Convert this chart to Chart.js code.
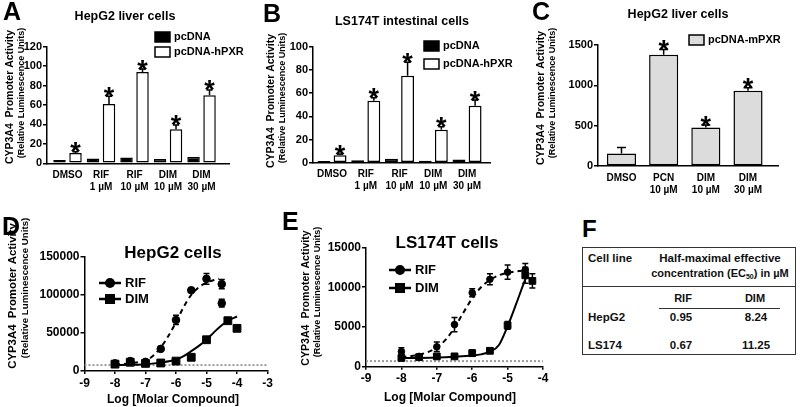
<!DOCTYPE html>
<html>
<head>
<meta charset="utf-8">
<script src="https://cdn.jsdelivr.net/npm/chart.js@4.4.1/dist/chart.umd.min.js"></script>
<style>
  html, body { margin: 0; padding: 0; background: #fff; }
  #fig { position: relative; width: 800px; height: 407px; overflow: hidden;
         font-family: "Liberation Sans", Arial, sans-serif; color: #000; }
  .pane { position: absolute; }
  .t { position: absolute; line-height: 1; white-space: nowrap; font-weight: bold; color: #111; }
  .c { transform: translate(-50%, -50%); }
  .l { transform: translate(0, -50%); }
</style>
</head>
<body>
<div id="fig">
  <canvas class="pane" id="chartA" width="262" height="200" style="left:0;top:0"></canvas>
  <canvas class="pane" id="chartB" width="266" height="200" style="left:262px;top:0"></canvas>
  <canvas class="pane" id="chartC" width="272" height="200" style="left:528px;top:0"></canvas>
  <canvas class="pane" id="chartD" width="280" height="207" style="left:0;top:200px"></canvas>
  <canvas class="pane" id="chartE" width="280" height="207" style="left:280px;top:200px"></canvas>
  <div id="panelF"></div>
</div>
<script>
const FONT = '"Liberation Sans", Arial, sans-serif';

// ---- panel A: HepG2, hPXR ----
const groupsA = [["DMSO"], ["RIF", "1 µM"], ["RIF", "10 µM"], ["DIM", "10 µM"], ["DIM", "30 µM"]];
const pcdnaA = [3.5, 5, 6, 4.5, 6.5];
const hpxrA = [10.5, 61, 94, 35, 70];
const hpxrErrA = [1.5, 8, 3, 4.5, 5.5];

// ---- panel B: LS174T, hPXR ----
const groupsB = [["DMSO"], ["RIF", "1 µM"], ["RIF", "10 µM"], ["DIM", "10 µM"], ["DIM", "30 µM"]];
const pcdnaB = [1.5, 2.2, 3.5, 1.7, 2.8];
const hpxrB = [6.5, 53.5, 75, 28.5, 49];
const hpxrErrB = [1, 2.5, 11.5, 2.5, 5];

// ---- panel C: HepG2, mPXR ----
const groupsC = [["DMSO"], ["PCN", "10 µM"], ["DIM", "10 µM"], ["DIM", "30 µM"]];
const mpxrC = [155, 1380, 478, 932];
const mpxrErrC = [75, 65, 30, 38];
const starsC = [false, true, true, true];

// ---- panel D: HepG2 dose response ----
const rifDoseD = [-8, -7.5, -7, -6.5, -6, -5.5, -5, -4.5, -4.5];
const rifD = [10000, 13000, 12000, 29000, 67000, 106000, 121000, 114000, 89000];
const rifErrD = [1500, 2000, 1500, 2000, 6000, 2000, 7000, 6000, 5000];
const dimDoseD = [-8, -7.5, -7, -6.5, -6, -5.5, -5, -4.3, -4];
const dimD = [9000, 11500, 10000, 10500, 13000, 18000, 41000, 66000, 56000];
const dimErrD = [1000, 1000, 1000, 1000, 1000, 1500, 2500, 3000, 3500];
const rifFitDoseD = [-8, -7.5, -7, -6.75, -6.5, -6.25, -6, -5.75, -5.5, -5.25, -5, -4.75, -4.6];
const rifFitD = [8500, 10000, 14000, 20000, 31000, 46000, 64000, 84000, 100000, 110000, 116000, 119500, 121000];
const dimFitDoseD = [-8, -7.5, -7, -6.5, -6, -5.75, -5.5, -5.25, -5, -4.75, -4.5, -4.25, -4];
const dimFitD = [7800, 8200, 9000, 11000, 15000, 19500, 26000, 33000, 41000, 51000, 60000, 67000, 71500];
const baselineD = 7800;

// ---- panel E: LS174T dose response ----
const rifDoseE = [-8, -7.5, -7, -6.5, -6, -5.5, -5, -4.5];
const rifE = [1900, 1300, 2500, 5300, 9300, 11000, 11900, 12200];
const rifErrE = [500, 200, 600, 900, 500, 700, 900, 800];
const dimDoseE = [-8, -7.5, -7, -6.5, -6, -5.5, -5, -4.5, -4.3];
const dimE = [1100, 1200, 1300, 1300, 1700, 2000, 5200, 11500, 10800];
const dimErrE = [300, 200, 300, 200, 400, 200, 500, 1000, 900];
const rifFitDoseE = [-8, -7.5, -7, -6.75, -6.5, -6.25, -6, -5.75, -5.5, -5.25, -5, -4.75, -4.5];
const rifFitE = [1200, 1500, 2400, 3400, 4900, 6800, 8600, 10000, 10900, 11500, 11800, 12000, 12100];
const dimFitDoseE = [-8, -7.5, -7, -6.5, -6, -5.75, -5.5, -5.25, -5, -4.75, -4.5, -4.45];
const dimFitE = [1100, 1100, 1150, 1250, 1400, 1550, 1900, 2700, 5100, 8000, 11000, 11500];
const baselineE = 700;

// ---- panel F: EC50 table ----
const cellLines = ["HepG2", "LS174"];
const ec50Rif = ["0.95", "0.67"];
const ec50Dim = ["8.24", "11.25"];

Chart.defaults.font.family = FONT;
Chart.defaults.color = "#000";
Chart.defaults.animation = false;
Chart.defaults.events = [];
Chart.defaults.plugins.legend.display = false;
Chart.defaults.plugins.tooltip.enabled = false;

function pts(xs, ys) {
  return xs.map((x, i) => ({ x: x, y: ys[i] }));
}

// error bars + significance stars
const errorBars = {
  id: "errorBars",
  afterDatasetsDraw(chart) {
    const ctx = chart.ctx;
    const ys = chart.scales.y;
    chart.data.datasets.forEach((ds, i) => {
      if (!ds.errors) return;
      const meta = chart.getDatasetMeta(i);
      ctx.save();
      ctx.strokeStyle = "#000";
      ctx.fillStyle = "#000";
      ctx.lineWidth = 1.5;
      meta.data.forEach((el, j) => {
        const v = ds.data[j].y;
        const e = ds.errors[j];
        const x = el.x;
        const top = ys.getPixelForValue(v + e);
        const bot = ds.errBoth ? ys.getPixelForValue(v - e) : ys.getPixelForValue(v);
        const cap = ds.cap || 6;
        ctx.beginPath();
        ctx.moveTo(x, top); ctx.lineTo(x, bot);
        ctx.moveTo(x - cap / 2, top); ctx.lineTo(x + cap / 2, top);
        if (ds.errBoth) { ctx.moveTo(x - cap / 2, bot); ctx.lineTo(x + cap / 2, bot); }
        ctx.stroke();
        if (ds.stars && ds.stars[j]) {
          ctx.font = "bold 27px " + FONT;
          ctx.textAlign = "center";
          ctx.textBaseline = "alphabetic";
          ctx.fillText("*", x, top + 9.5);
        }
      });
      ctx.restore();
    });
  }
};

// letters, titles, axis titles, legends
const decor = {
  id: "decor",
  afterDraw(chart, args, o) {
    const ctx = chart.ctx;
    ctx.save();
    ctx.fillStyle = "#000";
    ctx.strokeStyle = "#000";
    if (o.letter) {
      ctx.font = "bold 25px " + FONT;
      ctx.textAlign = "left";
      ctx.textBaseline = "alphabetic";
      ctx.fillText(o.letter[0], o.letter[1], o.letter[2]);
    }
    if (o.title) {
      ctx.font = "bold " + o.title[3] + "px " + FONT;
      ctx.textAlign = "center";
      ctx.textBaseline = "middle";
      ctx.fillText(o.title[0], o.title[1], o.title[2]);
    }
    if (o.xTitle) {
      ctx.font = "bold " + o.xTitle[3] + "px " + FONT;
      ctx.textAlign = "center";
      ctx.textBaseline = "middle";
      ctx.fillText(o.xTitle[0], o.xTitle[1], o.xTitle[2]);
    }
    (o.yTitle || []).forEach(t => {
      ctx.save();
      ctx.translate(t[1], t[2]);
      ctx.rotate(-Math.PI / 2);
      ctx.font = "bold " + t[3] + "px " + FONT;
      ctx.textAlign = "center";
      ctx.textBaseline = "middle";
      ctx.fillText(t[0], 0, 0);
      ctx.restore();
    });
    (o.legend || []).forEach(it => {
      const ds = chart.data.datasets[it.ds];
      ctx.lineWidth = 1.5;
      if (it.kind === "box") {
        ctx.fillStyle = ds.backgroundColor;
        ctx.fillRect(it.x, it.y - 5, 15, 10);
        ctx.strokeRect(it.x, it.y - 5, 15, 10);
        ctx.fillStyle = "#000";
        ctx.font = "bold 11px " + FONT;
        ctx.textAlign = "left";
        ctx.textBaseline = "middle";
        ctx.fillText(ds.label, it.x + 19, it.y);
      } else {
        ctx.lineWidth = 2.5;
        ctx.beginPath();
        ctx.moveTo(it.x - 11, it.y); ctx.lineTo(it.x + 11, it.y);
        ctx.stroke();
        ctx.fillStyle = "#000";
        if (ds.pointStyle === "rect") {
          ctx.fillRect(it.x - 5, it.y - 5, 10, 10);
        } else {
          ctx.beginPath();
          ctx.arc(it.x, it.y, 5, 0, Math.PI * 2);
          ctx.fill();
        }
        ctx.font = "bold 13px " + FONT;
        ctx.textAlign = "left";
        ctx.textBaseline = "middle";
        ctx.fillText(ds.label, it.x + 15, it.y);
      }
    });
    ctx.restore();
  }
};

function yAxis(max, step, width, size) {
  return {
    min: 0, max: max,
    ticks: { stepSize: step, color: "#000", padding: 1, font: { weight: "bold", size: size },
             callback: v => String(v) },
    grid: { display: true, drawOnChartArea: false, drawTicks: true, tickLength: 4, color: "#000", lineWidth: 1.5 },
    border: { display: true, color: "#000", width: 1.5 },
    afterFit: s => { s.width = width; }
  };
}

function barXAxis(min, max, groups, height) {
  return {
    type: "linear", min: min, max: max, offset: false,
    ticks: {
      stepSize: 1, includeBounds: false, color: "#000", padding: 6, maxRotation: 0, autoSkip: false,
      font: { weight: "bold", size: 10 },
      callback: v => (Number.isInteger(v) && groups[v - 1]) ? groups[v - 1] : ""
    },
    grid: { display: true, offset: false, drawOnChartArea: false, drawTicks: false, color: "#000" },
    border: { display: true, color: "#000", width: 1.5 },
    afterFit: s => { s.height = height; }
  };
}

function idx(arr) { return arr.map((v, i) => i + 1); }

// ---- A ----
new Chart(document.getElementById("chartA"), {
  type: "bar",
  data: {
    datasets: [
      { label: "pcDNA", data: pts(idx(pcdnaA), pcdnaA), backgroundColor: "#000", borderColor: "#000",
        borderWidth: 1.5, borderSkipped: false, categoryPercentage: 0.955, barPercentage: 0.78 },
      { label: "pcDNA-hPXR", data: pts(idx(hpxrA), hpxrA), backgroundColor: "#fff", borderColor: "#000",
        borderWidth: 1.5, borderSkipped: false, categoryPercentage: 0.955, barPercentage: 0.78,
        errors: hpxrErrA, stars: hpxrA.map(() => true) }
    ]
  },
  options: {
    responsive: false,
    layout: { padding: { left: 0, right: 33, top: 46.7, bottom: 0 } },
    scales: { x: barXAxis(0.388, 5.82, groupsA, 36.7), y: yAxis(120, 20, 47, 11) },
    plugins: {
      decor: {
        letter: ["A", 3, 20],
        title: ["HepG2 liver cells", 125, 17, 12.5],
        yTitle: [["CYP3A4  Promoter Activity", 10, 97, 10.5], ["(Relative Luminescence Units)", 22, 93, 9]],
        legend: [{ ds: 0, kind: "box", x: 155, y: 37 }, { ds: 1, kind: "box", x: 155, y: 52 }]
      }
    }
  },
  plugins: [errorBars, decor]
});

// ---- B ----
new Chart(document.getElementById("chartB"), {
  type: "bar",
  data: {
    datasets: [
      { label: "pcDNA", data: pts(idx(pcdnaB), pcdnaB), backgroundColor: "#000", borderColor: "#000",
        borderWidth: 1.5, borderSkipped: false, categoryPercentage: 0.955, barPercentage: 0.8 },
      { label: "pcDNA-hPXR", data: pts(idx(hpxrB), hpxrB), backgroundColor: "#fff", borderColor: "#000",
        borderWidth: 1.5, borderSkipped: false, categoryPercentage: 0.955, barPercentage: 0.8,
        errors: hpxrErrB, stars: hpxrB.map(() => true) }
    ]
  },
  options: {
    responsive: false,
    layout: { padding: { left: 0, right: 38, top: 46.7, bottom: 0 } },
    scales: { x: barXAxis(0.437, 5.68, groupsB, 37.3), y: yAxis(100, 20, 51, 11) },
    plugins: {
      decor: {
        letter: ["B", 1, 22],
        title: ["LS174T intestinal cells", 140, 22, 12.5],
        yTitle: [["CYP3A4  Promoter Activity", 9, 101, 10.5], ["(Relative Luminescence Units)", 21, 98, 9]],
        legend: [{ ds: 0, kind: "box", x: 162, y: 46 }, { ds: 1, kind: "box", x: 162, y: 64 }]
      }
    }
  },
  plugins: [errorBars, decor]
});

// ---- C ----
new Chart(document.getElementById("chartC"), {
  type: "bar",
  data: {
    datasets: [
      { label: "pcDNA-mPXR", data: pts(idx(mpxrC), mpxrC), backgroundColor: "#dcdcdc", borderColor: "#000",
        borderWidth: 1.5, borderSkipped: false, categoryPercentage: 1, barPercentage: 0.69,
        errors: mpxrErrC, stars: starsC, cap: 9 }
    ]
  },
  options: {
    responsive: false,
    layout: { padding: { left: 0, right: 22, top: 45, bottom: 0 } },
    scales: { x: barXAxis(0.443, 4.711, groupsC, 34), y: yAxis(1500, 500, 70, 11) },
    plugins: {
      decor: {
        letter: ["C", 4, 20],
        title: ["HepG2 liver cells", 150, 15, 12.5],
        yTitle: [["CYP3A4  Promoter Activity", 13, 98, 10.5], ["(Relative Luminescence Units)", 25, 93, 9]],
        legend: [{ ds: 0, kind: "box", x: 161, y: 40 }]
      }
    }
  },
  plugins: [errorBars, decor]
});

function doseChart(id, o) {
  return new Chart(document.getElementById(id), {
    type: "scatter",
    data: {
      datasets: [
        { label: "RIF", data: pts(o.rifDose, o.rif), pointStyle: "circle", pointRadius: o.r,
          backgroundColor: "#000", borderColor: "#000", showLine: false,
          errors: o.rifErr, errBoth: true, cap: 6 },
        { label: "DIM", data: pts(o.dimDose, o.dim), pointStyle: "rect", pointRadius: o.r * 1.45,
          backgroundColor: "#000", borderColor: "#000", showLine: false,
          errors: o.dimErr, errBoth: true, cap: 6 },
        { label: "RIF fit", data: pts(o.rifFitDose, o.rifFit), showLine: true, pointRadius: 0,
          borderColor: "#000", borderWidth: 2, borderDash: [5, 4], cubicInterpolationMode: "monotone" },
        { label: "DIM fit", data: pts(o.dimFitDose, o.dimFit), showLine: true, pointRadius: 0,
          borderColor: "#000", borderWidth: 2, cubicInterpolationMode: "monotone" },
        { label: "baseline", data: [{ x: o.xmin, y: o.base }, { x: o.xmax, y: o.base }], showLine: true,
          pointRadius: 0, borderColor: "#9a9a9a", borderWidth: 2, borderDash: [2, 2] }
      ]
    },
    options: {
      responsive: false,
      layout: { padding: { left: 0, right: o.padR, top: o.padT, bottom: 0 } },
      scales: {
        x: {
          type: "linear", min: o.xmin, max: o.xmax,
          ticks: { stepSize: 1, color: "#000", padding: 2, font: { weight: "bold", size: 12 },
                   callback: v => String(v) },
          grid: { display: true, drawOnChartArea: false, drawTicks: true, tickLength: 3, color: "#000", lineWidth: 1.5 },
          border: { display: true, color: "#000", width: 1.5 },
          afterFit: s => { s.height = o.xh; }
        },
        y: yAxis(o.ymax, o.ystep, o.yw, 12)
      },
      plugins: { decor: o.decor }
    },
    plugins: [errorBars, decor]
  });
}

doseChart("chartD", {
  rifDose: rifDoseD, rif: rifD, rifErr: rifErrD, dimDose: dimDoseD, dim: dimD, dimErr: dimErrD,
  rifFitDose: rifFitDoseD, rifFit: rifFitD, dimFitDose: dimFitDoseD, dimFit: dimFitD, base: baselineD,
  xmin: -9, xmax: -3, ymax: 150000, ystep: 50000, yw: 84.5, padR: 12.5, padT: 56.7, xh: 36, r: 3.8,
  decor: {
    letter: ["D", 2, 35],
    title: ["HepG2 cells", 173, 53, 17],
    xTitle: ["Log [Molar Compound]", 173, 200, 12],
    yTitle: [["CYP3A4  Promoter Activity", 13, 96, 11.4], ["(Relative Luminescence Units)", 25, 88, 9.7]],
    legend: [{ ds: 0, kind: "marker", x: 110, y: 83 }, { ds: 1, kind: "marker", x: 110, y: 99 }]
  }
});

doseChart("chartE", {
  rifDose: rifDoseE, rif: rifE, rifErr: rifErrE, dimDose: dimDoseE, dim: dimE, dimErr: dimErrE,
  rifFitDose: rifFitDoseE, rifFit: rifFitE, dimFitDose: dimFitDoseE, dimFit: dimFitE, base: baselineE,
  xmin: -9, xmax: -4, ymax: 15000, ystep: 5000, yw: 86, padR: 17, padT: 47.5, xh: 40.3, r: 3.3,
  decor: {
    letter: ["E", 2, 30],
    title: ["LS174T cells", 167, 43, 17],
    xTitle: ["Log [Molar Compound]", 170, 198, 12],
    yTitle: [["CYP3A4  Promoter Activity", 26, 98, 10.6], ["(Relative Luminescence Units)", 38, 92, 9]],
    legend: [{ ds: 0, kind: "marker", x: 120, y: 70 }, { ds: 1, kind: "marker", x: 120, y: 88 }]
  }
});

// ---- F: EC50 table built from the arrays ----
(function buildTable() {
  const f = document.getElementById("panelF");
  function add(html, x, y, cls, style) {
    const d = document.createElement("div");
    d.className = "t " + cls;
    d.style.left = x + "px";
    d.style.top = y + "px";
    d.style.cssText += style || "";
    d.innerHTML = html;
    f.appendChild(d);
  }
  add("F", 582, 217, "", "font-size:24px;color:#000;");
  add("", 582, 247, "", "width:214px;height:108px;border:1.5px solid #333;box-sizing:border-box;");
  add("", 582, 285.5, "", "width:214px;height:0;border-top:1.5px solid #333;");
  add("", 659, 307.5, "", "width:121px;height:0;border-top:1.5px solid #333;");
  add("Cell line", 588, 259, "l", "font-size:11.5px;");
  add("Half-maximal effective", 720, 259, "c", "font-size:11.5px;");
  add("concentration (EC<sub style=\"font-size:7px;vertical-align:-2px\">50</sub>) in µM", 720, 274, "c", "font-size:11px;");
  add("RIF", 683, 298, "c", "font-size:11px;");
  add("DIM", 755, 298, "c", "font-size:11px;");
  const rowY = [318, 346];
  cellLines.forEach((name, i) => {
    add(name, 588, rowY[i], "l", "font-size:11.5px;");
    add(ec50Rif[i], 681, rowY[i], "c", "font-size:11.5px;");
    add(ec50Dim[i], 756, rowY[i], "c", "font-size:11.5px;");
  });
})();
</script>
</body>
</html>
